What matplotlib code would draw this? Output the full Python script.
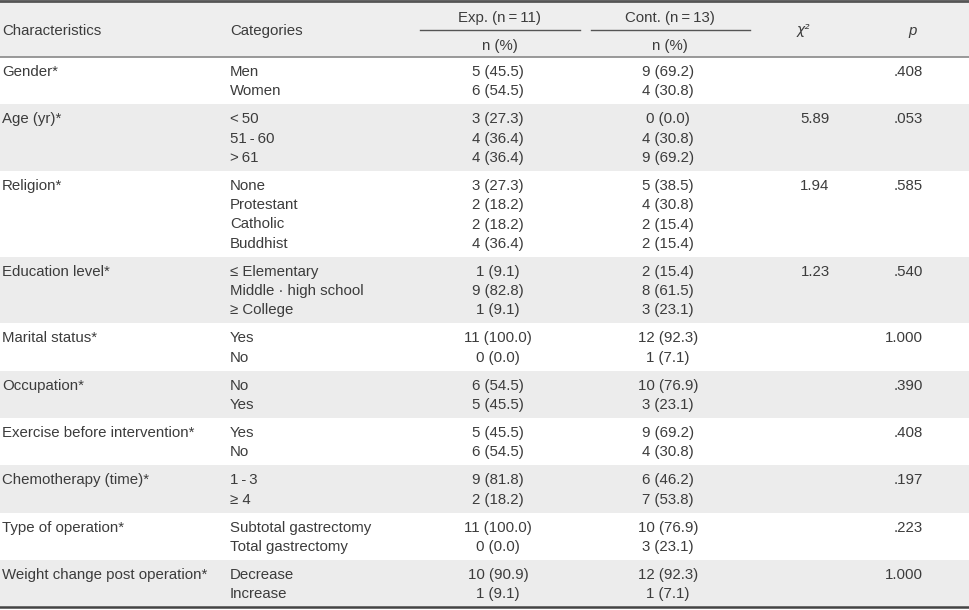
import matplotlib.pyplot as plt
from matplotlib.patches import Rectangle

plt.rcParams['font.family'] = ['Liberation Sans Narrow', 'Liberation Sans', 'DejaVu Sans']

# данные таблицы
characteristics = ['Gender*', 'Age (yr)*', 'Religion*', 'Education level*', 'Marital status*',
                   'Occupation*', 'Exercise before intervention*', 'Chemotherapy (time)*',
                   'Type of operation*', 'Weight change post operation*']
categories = [['Men', 'Women'],
              ['<\u200950', '51\u2009-\u200960', '>\u200961'],
              ['None', 'Protestant', 'Catholic', 'Buddhist'],
              ['≤ Elementary', 'Middle · high school', '≥ College'],
              ['Yes', 'No'],
              ['No', 'Yes'],
              ['Yes', 'No'],
              ['1\u2009-\u20093', '≥ 4'],
              ['Subtotal gastrectomy', 'Total gastrectomy'],
              ['Decrease', 'Increase']]
exp_vals = [['5 (45.5)', '6 (54.5)'],
            ['3 (27.3)', '4 (36.4)', '4 (36.4)'],
            ['3 (27.3)', '2 (18.2)', '2 (18.2)', '4 (36.4)'],
            ['1 (9.1)', '9 (82.8)', '1 (9.1)'],
            ['11 (100.0)', '0 (0.0)'],
            ['6 (54.5)', '5 (45.5)'],
            ['5 (45.5)', '6 (54.5)'],
            ['9 (81.8)', '2 (18.2)'],
            ['11 (100.0)', '0 (0.0)'],
            ['10 (90.9)', '1 (9.1)']]
cont_vals = [['9 (69.2)', '4 (30.8)'],
             ['0 (0.0)', '4 (30.8)', '9 (69.2)'],
             ['5 (38.5)', '4 (30.8)', '2 (15.4)', '2 (15.4)'],
             ['2 (15.4)', '8 (61.5)', '3 (23.1)'],
             ['12 (92.3)', '1 (7.1)'],
             ['10 (76.9)', '3 (23.1)'],
             ['9 (69.2)', '4 (30.8)'],
             ['6 (46.2)', '7 (53.8)'],
             ['10 (76.9)', '3 (23.1)'],
             ['12 (92.3)', '1 (7.1)']]
chi2 = ['', '5.89', '1.94', '1.23', '', '', '', '', '', '']
p_vals = ['.408', '.053', '.585', '.540', '1.000', '.390', '.408', '.197', '.223', '1.000']

W, H = 969, 610
fig = plt.figure(figsize=(W / 100, H / 100), dpi=100)
ax = fig.add_axes([0, 0, 1, 1])
ax.set_xlim(0, W)
ax.set_ylim(H, 0)
ax.axis('off')

tc = '#3c3c3c'
fs = 10.8
grey = '#ececec'

# шапка
ax.add_patch(Rectangle((0, 0), W, 57, color='#eeeeee', lw=0))
ax.text(2, 31, 'Characteristics', color=tc, fontsize=fs, va='center')
ax.text(230, 31, 'Categories', color=tc, fontsize=fs, va='center')
ax.text(500, 18, 'Exp. (n\u2009=\u200911)', color=tc, fontsize=fs, va='center', ha='center')
ax.text(670, 18, 'Cont. (n\u2009=\u200913)', color=tc, fontsize=fs, va='center', ha='center')
ax.plot([420, 580], [30, 30], color='#555555', lw=1)
ax.plot([591, 750], [30, 30], color='#555555', lw=1)
ax.text(500, 46, 'n (%)', color=tc, fontsize=fs, va='center', ha='center')
ax.text(670, 46, 'n (%)', color=tc, fontsize=fs, va='center', ha='center')
ax.text(803, 30, 'χ²', color=tc, fontsize=fs - 1, va='center', ha='center', style='italic',
        family='DejaVu Sans')
ax.text(913, 31, 'p', color=tc, fontsize=fs, va='center', ha='center', style='italic')

# строки
step = 19.3
y = 57
for i in range(len(characteristics)):
    n = len(categories[i])
    h = step * (n - 1) + 28
    if i % 2 == 1:
        ax.add_patch(Rectangle((0, y), W, h, color=grey, lw=0))
    y0 = y + 15
    ax.text(2, y0, characteristics[i], color=tc, fontsize=fs, va='center')
    if chi2[i]:
        ax.text(815, y0, chi2[i], color=tc, fontsize=fs, va='center', ha='center')
    ax.text(923, y0, p_vals[i], color=tc, fontsize=fs, va='center', ha='right')
    for j in range(n):
        yy = y0 + j * step
        ax.text(230, yy, categories[i][j], color=tc, fontsize=fs, va='center')
        ax.text(498, yy, exp_vals[i][j], color=tc, fontsize=fs, va='center', ha='center')
        ax.text(668, yy, cont_vals[i][j], color=tc, fontsize=fs, va='center', ha='center')
    y += h

ax.plot([0, W], [1.2, 1.2], color='#555555', lw=2)
ax.plot([0, W], [57, 57], color='#888888', lw=1.2)
ax.plot([0, W], [y, y], color='#444444', lw=1.8)

fig.savefig('out.png', dpi=100)
